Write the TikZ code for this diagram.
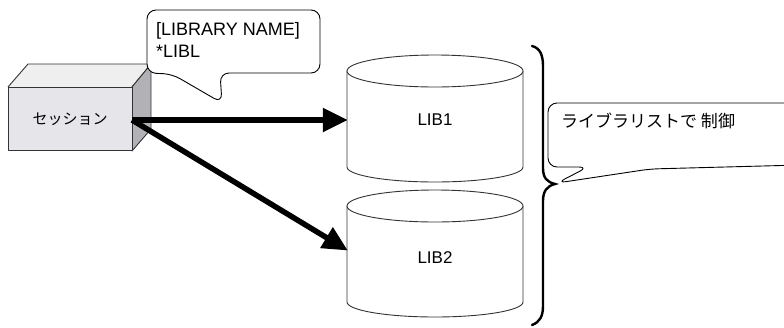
\documentclass[tikz,border=0pt]{standalone}
\usepackage{fontspec}
\setmainfont{Liberation Sans}
\newfontfamily\jp{Noto Sans CJK JP}
\usetikzlibrary{arrows.meta}

\definecolor{frontgray}{HTML}{E6E6EA}
\definecolor{topgray}{HTML}{EFEFEF}
\definecolor{sidegray}{HTML}{B2B2B6}
\definecolor{linegray}{HTML}{333333}

\tikzset{
  outline/.style={draw=linegray, line width=0.9pt, line join=round},
  sessbox/.style={outline, fill=frontgray, minimum width=124pt, minimum height=63pt,
    inner sep=0pt, font=\jp\fontsize{15}{18}\selectfont},
  libanchor/.style={minimum width=176pt, minimum height=126pt, inner sep=0pt,
    font=\fontsize{17}{20}\selectfont},
  callout/.style={draw=black, line width=0.9pt, fill=white, rounded corners=9pt, line join=round},
  bigarrow/.style={line width=5.5pt, -{Triangle[length=25pt,width=23pt]}, shorten >=-1pt},
  brace/.style={line width=2.4pt, line cap=round}
}

\newcommand{\cylbody}[4]{% center x, top ellipse y, bottom ellipse y, half width
  \draw[outline, fill=white] (#1-#4,#2) -- (#1-#4,#3)
    arc[start angle=180, end angle=360, x radius=#4pt, y radius=15pt]
    -- (#1+#4,#2);
  \draw[outline, fill=white] (#1,#2) ellipse [x radius=#4pt, y radius=16pt];
}

\begin{document}
\begin{tikzpicture}[x=1pt, y=-1pt]
\useasboundingbox (0,0) rectangle (784,327);
\clip (0,0) rectangle (784,327);

% --- session block (3D box) ---
\fill[topgray] (8,87) -- (28,64) -- (151,64) -- (132,87) -- cycle;
\draw[outline] (8,87) -- (28,64) -- (151,64) -- (132,87);
\draw[outline, fill=sidegray] (132,87) -- (151,64) -- (151,129) -- (132,151) -- cycle;
\node[sessbox] (sess) at (70,119) {セッション};

% --- library cylinders ---
\cylbody{435}{71}{167}{88}
\node[libanchor] (lib1) at (435,120) {LIB1};
\cylbody{435}{206}{302}{88}
\node[libanchor] (lib2) at (435,258) {LIB2};

% --- connectors ---
\coordinate (start) at (132,120);
\draw[bigarrow] (start) -- (lib1.west);
\draw[bigarrow] (start) -- (347,250);

% --- callout with the library name ---
\draw[callout] (220,73) -- (222,103) -- (172,74) -- (147,73) -- (147,10) -- (320,10) -- (320,73) -- cycle;
\node[anchor=base west, font=\fontsize{18}{22}\selectfont, inner sep=0pt] (lname) at (156,35) {[LIBRARY NAME]};
\node[anchor=base west, font=\fontsize{18}{22}\selectfont, inner sep=0pt] (libl) at (156,57) {*LIBL};

% --- brace grouping the libraries ---
\draw[brace] (532,46) .. controls (540,48) and (543,55) .. (543,66)
  -- (543,168) .. controls (543,178) and (547,182) .. (555,184)
  .. controls (547,186) and (543,191) .. (543,201)
  -- (543,306) .. controls (543,316) and (540,322) .. (532,325);
\coordinate (bracetip) at (557,183);

% --- callout explaining the brace ---
\draw[callout] (588,167) -- (bracetip) -- (650,169) -- (800,165) -- (800,103) -- (548,103) -- (548,167) -- cycle;
\node[anchor=west, font=\jp\fontsize{17}{20}\selectfont, inner sep=0pt] (ctrl) at (561,121) {ライブラリストで 制御};
\end{tikzpicture}
\end{document}
